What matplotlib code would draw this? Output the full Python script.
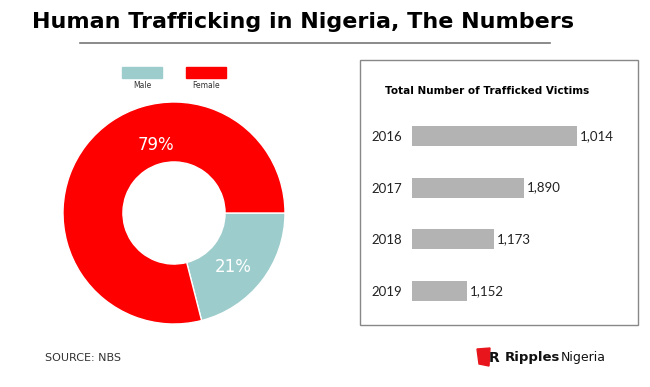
import matplotlib
matplotlib.use('Agg')
import matplotlib.pyplot as plt
from matplotlib.patches import Rectangle, Polygon

W, H = 650, 387

# donut data
sexes = ['Male', 'Female']
shares = [21, 79]
sex_colors = ['#9dcccc', '#ff0000']

# bar data
years = ['2016', '2017', '2018', '2019']
bar_len = [1650, 1120, 820, 550]          # bar lengths as drawn
bar_labels = ['1,014', '1,890', '1,173', '1,152']  # printed labels


def fx(px):
    return px / W


def fy(py):
    return 1 - py / H


fig = plt.figure(figsize=(W / 100, H / 100), dpi=100)
fig.patch.set_facecolor('white')

# title + rule
fig.text(fx(303), fy(22), 'Human Trafficking in Nigeria, The Numbers',
         ha='center', va='center', fontsize=16, fontweight='bold')
fig.add_artist(plt.Line2D([fx(80), fx(550)], [fy(43), fy(43)],
                          color='#777777', lw=1.2))

# donut
ax = fig.add_axes([fx(63), fy(324), fx(222), 222 / H])
ax.pie(shares, colors=sex_colors, startangle=0, counterclock=False,
       wedgeprops=dict(width=0.54, edgecolor='white', linewidth=1))
ax.set_xlim(-1, 1)
ax.set_ylim(-1, 1)
ax.set_aspect('equal')
ax.text(0.53, -0.49, f'{shares[0]}%', color='white', fontsize=12,
        ha='center', va='center')
ax.text(-0.16, 0.61, f'{shares[1]}%', color='white', fontsize=12,
        ha='center', va='center')

# legend
for i, (s, c) in enumerate(zip(sexes, sex_colors)):
    x0 = 122 + i * 64
    fig.add_artist(Rectangle((fx(x0), fy(78)), fx(40), 11 / H, color=c))
    fig.text(fx(x0 + 20), fy(85), s, ha='center', va='center', fontsize=5.5,
             color='#333333')

# right panel box
fig.add_artist(Rectangle((fx(360), fy(325)), fx(278), 265 / H, fill=False,
                         edgecolor='#888888', lw=1))
fig.text(fx(385), fy(91), 'Total Number of Trafficked Victims',
         ha='left', va='center', fontsize=7.5, fontweight='bold')

bx = fig.add_axes([fx(412), fy(317), fx(220), 207 / H])
bx.barh(range(len(years)), bar_len, height=0.39, color='#b3b3b3')
bx.set_xlim(0, 2200)
bx.set_ylim(3.5, -0.5)
bx.set_yticks(range(len(years)))
bx.set_yticklabels(years, family='Lato', fontsize=9.5, color='#222222')
bx.tick_params(axis='y', length=0, pad=7)
bx.set_xticks([])
for sp in bx.spines.values():
    sp.set_visible(False)
for i, (v, lb) in enumerate(zip(bar_len, bar_labels)):
    bx.text(v + 30, i, lb, va='center', ha='left', family='Lato',
            fontsize=9.5, color='#222222')

# footer
fig.text(fx(45), fy(358), 'SOURCE: NBS', ha='left', va='center',
         fontsize=8, color='#333333')
fig.add_artist(Polygon([(fx(477), fy(349)), (fx(490), fy(348)),
                        (fx(489), fy(366)), (fx(479), fy(364))],
                       closed=True, color='#e8161c'))
fig.text(fx(494), fy(358), 'R', ha='center', va='center', fontsize=10,
         fontweight='bold', color='#111111')
t1 = fig.text(fx(505), fy(358), 'Ripples', ha='left', va='center',
              fontsize=9.5, fontweight='bold', color='#111111')
fig.canvas.draw()
bb = t1.get_window_extent(renderer=fig.canvas.get_renderer())
fig.text(bb.x1 / W, fy(358), 'Nigeria', ha='left', va='center',
         fontsize=9, color='#111111')

fig.savefig('out.png', dpi=100)
